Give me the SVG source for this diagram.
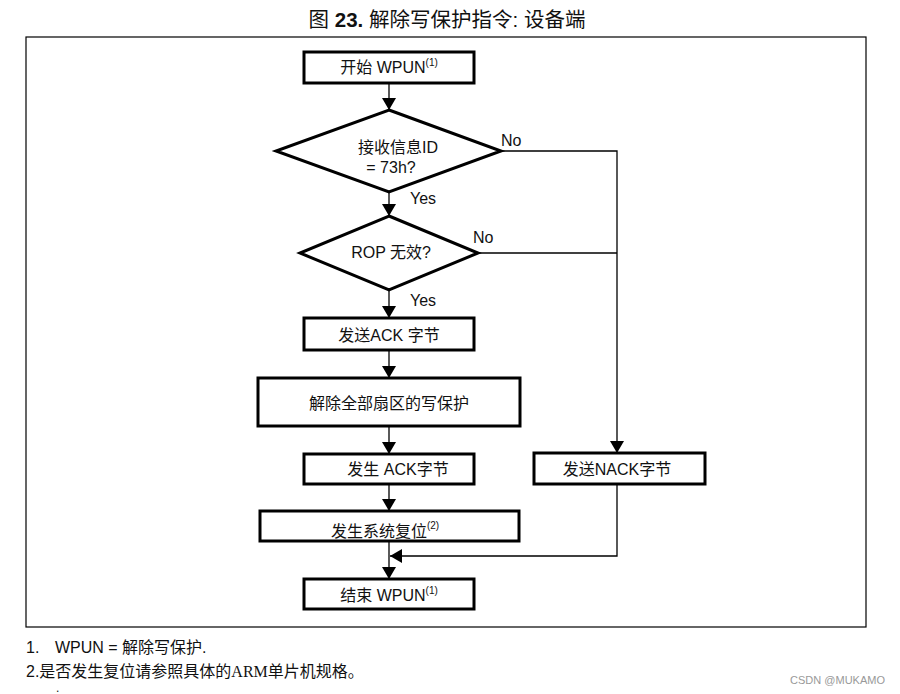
<svg xmlns="http://www.w3.org/2000/svg" width="900" height="694" viewBox="0 0 900 694">
<defs>
<marker id="ah" markerWidth="12" markerHeight="14" refX="12" refY="7" orient="auto" markerUnits="userSpaceOnUse">
<path d="M0,0 L12,7 L0,14 Z" fill="#000"/>
</marker>
<style>
.box{fill:#fff;stroke:#000;stroke-width:3}
.dia{fill:#fff;stroke:#000;stroke-width:3;stroke-linejoin:miter}
.t{font-family:"Liberation Sans","Noto Sans CJK SC",sans-serif;font-size:16px;fill:#111;text-anchor:middle}
.lbl{font-family:"Liberation Sans","Noto Sans CJK SC",sans-serif;font-size:16px;fill:#111}
.sup{font-size:10px}
.ln{fill:none;stroke:#000;stroke-width:1.3}
.fn{font-family:"Liberation Sans","Noto Sans CJK SC",sans-serif;font-size:16px;fill:#111}
</style>
</defs>
<rect width="900" height="694" fill="#fff"/>
<text x="447" y="27" class="t" style="font-size:20.5px">图 <tspan font-weight="bold">23.</tspan> 解除写保护指令: 设备端</text>
<rect x="26" y="37" width="840" height="590" fill="none" stroke="#000" stroke-width="1.2"/>

<g id="connectors">
<line class="ln" x1="389" y1="83" x2="389" y2="110" marker-end="url(#ah)"/>
<line class="ln" x1="389" y1="192" x2="389" y2="216" marker-end="url(#ah)"/>
<line class="ln" x1="389" y1="290" x2="389" y2="318" marker-end="url(#ah)"/>
<line class="ln" x1="389" y1="350" x2="389" y2="378" marker-end="url(#ah)"/>
<line class="ln" x1="389" y1="426" x2="389" y2="454" marker-end="url(#ah)"/>
<line class="ln" x1="389" y1="484" x2="389" y2="511" marker-end="url(#ah)"/>
<line class="ln" x1="389" y1="541" x2="389" y2="579" marker-end="url(#ah)"/>
<polyline class="ln" points="501,151 617,151 617,453" marker-end="url(#ah)"/>
<line class="ln" x1="478" y1="253" x2="617" y2="253"/>
<polyline class="ln" points="617,484 617,556 390,556" marker-end="url(#ah)"/>
<text x="501" y="146" class="lbl">No</text>
<text x="473" y="243" class="lbl">No</text>
<text x="410" y="204" class="lbl">Yes</text>
<text x="410" y="306" class="lbl">Yes</text>
</g>

<g id="start">
<rect class="box" x="304" y="52" width="170" height="31"/>
<text x="389" y="73" class="t">开始 WPUN<tspan class="sup" dy="-7">(1)</tspan></text>
</g>
<g id="check-id">
<polygon class="dia" points="389,110 501,151 389,192 276,151"/>
<text x="398" y="153" class="t">接收信息ID</text>
<text x="391" y="173" class="t">= 73h?</text>
</g>
<g id="check-rop">
<polygon class="dia" points="389,216 478,253 389,290 300,253"/>
<text x="391" y="258" class="t">ROP 无效?</text>
</g>
<g id="send-ack">
<rect class="box" x="304" y="318" width="170" height="32"/>
<text x="389" y="341" class="t">发送ACK 字节</text>
</g>
<g id="remove-wp">
<rect class="box" x="258" y="378" width="262" height="48"/>
<text x="389" y="409" class="t">解除全部扇区的写保护</text>
</g>
<g id="gen-ack">
<rect class="box" x="304" y="454" width="170" height="30"/>
<text x="398" y="475" class="t">发生 ACK字节</text>
</g>
<g id="reset">
<rect class="box" x="260" y="511" width="259" height="30"/>
<text x="385" y="537" class="t">发生系统复位<tspan class="sup" dy="-8">(2)</tspan></text>
</g>
<g id="send-nack">
<rect class="box" x="534" y="453" width="171" height="31"/>
<text x="617" y="475" class="t">发送NACK字节</text>
</g>
<g id="end">
<rect class="box" x="304" y="579" width="170" height="30"/>
<text x="389" y="601" class="t">结束 WPUN<tspan class="sup" dy="-7">(1)</tspan></text>
</g>

<text x="26" y="653" class="fn">1.<tspan x="55">WPUN = 解除写保护.</tspan></text>
<text x="26" y="677" class="fn">2.<tspan font-family="Liberation Serif,Noto Sans CJK SC,serif">是否发生复位请参照具体的ARM单片机规格。</tspan></text>
<text x="56" y="692" class="fn" style="font-size:12px">.</text>
<text x="885" y="684" style="font-family:'Liberation Sans',sans-serif;font-size:11px;fill:#999;text-anchor:end">CSDN @MUKAMO</text>
</svg>
